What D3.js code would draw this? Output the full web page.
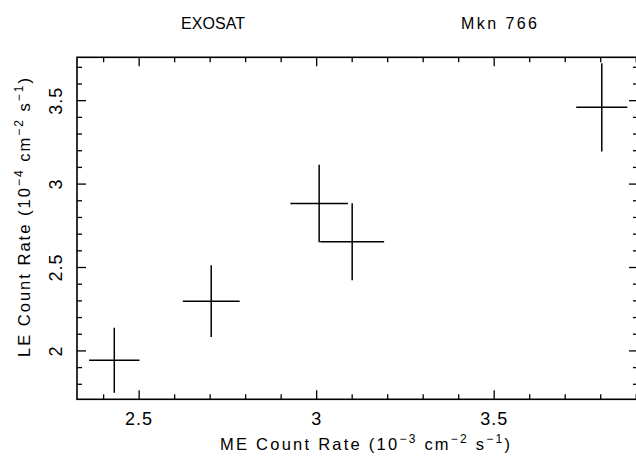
<!DOCTYPE html>
<html>
<head>
<meta charset="utf-8">
<script src="https://cdn.jsdelivr.net/npm/d3@7"></script>
<style>
  html, body { margin: 0; padding: 0; background: #fff; }
  svg { display: block; font-family: "Liberation Sans", Arial, sans-serif; }
</style>
</head>
<body>
<svg id="chart" width="636" height="459"></svg>
<script>
// ME vs LE count rates for Mkn 766 (EXOSAT)
const meRate = [2.430, 2.703, 3.007, 3.100, 3.803];
const meErr  = [0.071, 0.080, 0.081, 0.090, 0.072];
const leRate = [1.944, 2.298, 2.884, 2.654, 3.460];
const leErr  = [0.195, 0.215, 0.232, 0.231, 0.265];

const xMajorTicks = [2.5, 3, 3.5];
const yMajorTicks = [2, 2.5, 3, 3.5];
const xDomain = [2.325, 3.905];
const yDomain = [1.71, 3.76];

const svg = d3.select("#chart");
const plotL = 77, plotR = 638, plotT = 57.3, plotB = 399.3;

const x = d3.scaleLinear().domain(xDomain).range([plotL, plotR]);
const y = d3.scaleLinear().domain(yDomain).range([plotB, plotT]);

const fmt = d => d3.format("~g")(d);
const xMinor = d3.range(2.4, 3.95, 0.1).map(v => +v.toFixed(2)).filter(v => v >= xDomain[0] && v <= xDomain[1]);
const yMinor = d3.range(1.8, 3.8, 0.1).map(v => +v.toFixed(2)).filter(v => v >= yDomain[0] && v <= yDomain[1]);
const isMajor = (v, list) => list.some(m => Math.abs(m - v) < 1e-6);

const g = svg.append("g");

// frame
g.append("rect")
  .attr("x", plotL).attr("y", plotT)
  .attr("width", plotR - plotL).attr("height", plotB - plotT)
  .attr("fill", "none").attr("stroke", "#000").attr("stroke-width", 1.6);

// inward ticks on all four sides
xMinor.forEach(v => {
  const L = isMajor(v, xMajorTicks) ? 9 : 5;
  g.append("line").attr("x1", x(v)).attr("x2", x(v)).attr("y1", plotB).attr("y2", plotB - L)
    .attr("stroke", "#000").attr("stroke-width", 1.3);
  g.append("line").attr("x1", x(v)).attr("x2", x(v)).attr("y1", plotT).attr("y2", plotT + L)
    .attr("stroke", "#000").attr("stroke-width", 1.3);
});
yMinor.forEach(v => {
  const L = isMajor(v, yMajorTicks) ? 9 : 5;
  g.append("line").attr("x1", plotL).attr("x2", plotL + L).attr("y1", y(v)).attr("y2", y(v))
    .attr("stroke", "#000").attr("stroke-width", 1.3);
  g.append("line").attr("x1", plotR).attr("x2", plotR - L).attr("y1", y(v)).attr("y2", y(v))
    .attr("stroke", "#000").attr("stroke-width", 1.3);
});

// tick labels
g.selectAll(".xl").data(xMajorTicks).join("text")
  .attr("x", d => x(d)).attr("y", 425)
  .attr("text-anchor", "middle").attr("font-size", 18)
  .attr("letter-spacing", 1)
  .text(fmt);

g.selectAll(".yl").data(yMajorTicks).join("text")
  .attr("transform", d => `translate(62,${y(d)}) rotate(-90)`)
  .attr("text-anchor", "middle").attr("font-size", 18)
  .attr("letter-spacing", 1)
  .text(fmt);

// axis titles with superscripts
function labelWithSups(sel, parts) {
  parts.forEach(p => {
    if (p.sup) {
      sel.append("tspan").attr("dy", -7).attr("font-size", 12).text(p.t);
      sel.append("tspan").attr("dy", 7).text(p.after || "");
    } else {
      sel.append("tspan").text(p.t);
    }
  });
}

const xTitle = g.append("text")
  .attr("x", 220).attr("y", 450)
  .attr("font-size", 16.5)
  .attr("textLength", 290).attr("lengthAdjust", "spacing");
labelWithSups(xTitle, [
  { t: "ME Count Rate (10" },
  { t: "\u22123", sup: true, after: " cm" },
  { t: "\u22122", sup: true, after: " s" },
  { t: "\u22121", sup: true, after: ")" }
]);

const yTitle = g.append("text")
  .attr("transform", "translate(30,357) rotate(-90)")
  .attr("font-size", 16.5)
  .attr("textLength", 279).attr("lengthAdjust", "spacing");
labelWithSups(yTitle, [
  { t: "LE Count Rate (10" },
  { t: "\u22124", sup: true, after: " cm" },
  { t: "\u22122", sup: true, after: " s" },
  { t: "\u22121", sup: true, after: ")" }
]);

// header labels
svg.append("text").attr("x", 181).attr("y", 29)
  .attr("font-size", 16).attr("textLength", 64).attr("lengthAdjust", "spacing")
  .text("EXOSAT");
svg.append("text").attr("x", 461).attr("y", 29)
  .attr("font-size", 16).attr("textLength", 76).attr("lengthAdjust", "spacing")
  .text("Mkn 766");

// error-bar crosses
const pts = meRate.map((m, i) => ({ m, me: meErr[i], l: leRate[i], le: leErr[i] }));
const crosses = g.selectAll(".pt").data(pts).join("g");
crosses.append("line")
  .attr("x1", d => x(d.m - d.me)).attr("x2", d => x(d.m + d.me))
  .attr("y1", d => y(d.l)).attr("y2", d => y(d.l))
  .attr("stroke", "#000").attr("stroke-width", 1.5);
crosses.append("line")
  .attr("x1", d => x(d.m)).attr("x2", d => x(d.m))
  .attr("y1", d => y(d.l - d.le)).attr("y2", d => y(d.l + d.le))
  .attr("stroke", "#000").attr("stroke-width", 1.5);
</script>
</body>
</html>
